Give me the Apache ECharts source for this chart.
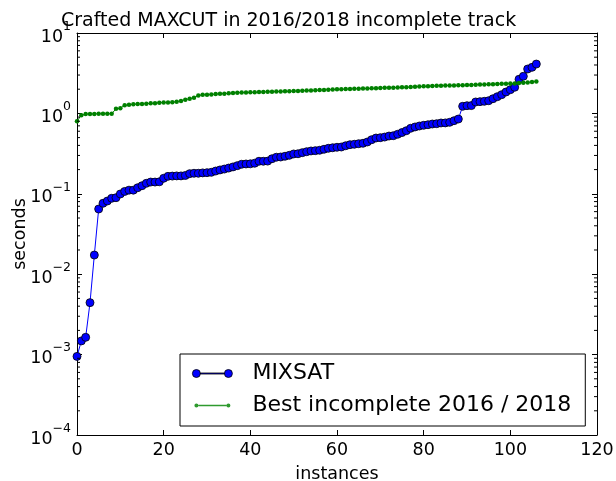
<!DOCTYPE html>
<html>
<head>
<meta charset="utf-8">
<script src="https://cdn.jsdelivr.net/npm/echarts@6/dist/echarts.min.js"></script>
<style>html,body{margin:0;padding:0;background:#fff}#c{width:616px;height:481px}</style>
</head>
<body>
<div id="c"></div>
<script>
const titleText = 'Crafted MAXCUT in 2016/2018 incomplete track';
const xName = 'instances';
const yName = 'seconds';
const seriesNames = ['MIXSAT', 'Best incomplete 2016 / 2018'];
const xTicks = [0, 20, 40, 60, 80, 100, 120];
const yExponents = [-4, -3, -2, -1, 0, 1];

const mixsat = [0.00095,0.00148,0.00164,0.00443,0.0173,0.0647,0.0762,0.0813,0.0879,0.0894,
0.0995,0.107,0.111,0.111,0.119,0.126,0.135,0.140,0.140,0.141,
0.156,0.165,0.166,0.167,0.167,0.169,0.178,0.180,0.180,0.182,
0.183,0.185,0.192,0.198,0.203,0.209,0.216,0.224,0.233,0.235,
0.236,0.240,0.254,0.254,0.255,0.273,0.285,0.287,0.293,0.301,
0.313,0.315,0.325,0.334,0.341,0.344,0.348,0.358,0.368,0.374,
0.379,0.382,0.396,0.408,0.413,0.420,0.425,0.441,0.471,0.494,
0.499,0.508,0.523,0.528,0.550,0.578,0.609,0.653,0.678,0.697,
0.711,0.723,0.738,0.745,0.760,0.762,0.775,0.811,0.851,1.225,
1.247,1.250,1.387,1.400,1.414,1.438,1.523,1.614,1.710,1.846,
1.972,2.113,2.657,2.894,3.565,3.74,4.11];

const bestIncomplete = [0.80,0.95,0.98,0.985,0.985,0.99,0.99,0.99,0.99,1.14,
1.16,1.26,1.285,1.30,1.31,1.31,1.32,1.335,1.34,1.36,
1.365,1.37,1.38,1.40,1.43,1.48,1.52,1.57,1.67,1.70,
1.71,1.72,1.74,1.75,1.76,1.78,1.795,1.81,1.815,1.82,
1.83,1.835,1.84,1.85,1.855,1.86,1.87,1.875,1.88,1.89,
1.895,1.90,1.91,1.92,1.93,1.94,1.95,1.96,1.97,1.98,
1.99,2.0,2.005,2.01,2.02,2.03,2.035,2.04,2.05,2.06,
2.07,2.08,2.085,2.09,2.10,2.11,2.12,2.13,2.145,2.16,
2.17,2.18,2.19,2.20,2.21,2.22,2.225,2.23,2.24,2.245,
2.25,2.26,2.27,2.28,2.29,2.30,2.31,2.32,2.33,2.34,
2.35,2.36,2.38,2.40,2.43,2.46,2.50];

const minorTickValues = [];
for (let e = yExponents[0]; e < yExponents[yExponents.length-1]; e++) {
  for (let m = 2; m <= 9; m++) minorTickValues.push(m * Math.pow(10, e));
}

const FONT = 'DejaVu Sans';
const chart = echarts.init(document.getElementById('c'), null, {renderer: 'canvas'});

const yLabelFmt = v => {
  const e = Math.round(Math.log10(v));
  return '{a|10}{b|' + (e < 0 ? '\u2212' + (-e) : e) + '}';
};
const yRich = {
  a: {fontFamily: FONT, fontSize: 17.5, color: '#000', verticalAlign: 'bottom', lineHeight: 26},
  b: {fontFamily: FONT, fontSize: 12.5, color: '#000', verticalAlign: 'top', lineHeight: 26}
};

const mixPath = 'path://M0,6 A4,4 0 1 0 8,6 A4,4 0 1 0 0,6 Z M32,6 A4,4 0 1 0 40,6 A4,4 0 1 0 32,6 Z M8,5.5 L32,5.5 L32,6.5 L8,6.5 Z';
const bestPath = 'path://M0,6 L0,6 M40,6 L40,6 M2,6 A2,2 0 1 0 6,6 A2,2 0 1 0 2,6 Z M34,6 A2,2 0 1 0 38,6 A2,2 0 1 0 34,6 Z M6,5.3 L34,5.3 L34,6.7 L6,6.7 Z';

const axisLineStyle = {show: true, onZero: false, lineStyle: {color: '#000', width: 1}};
const axisTickStyle = {show: true, inside: true, length: 5, lineStyle: {color: '#000', width: 1}};

const option = {
  animation: false,
  backgroundColor: '#fff',
  title: {
    text: titleText, left: 56, top: 7,
    textStyle: {fontFamily: FONT, fontSize: 19, fontWeight: 'normal', color: '#000'}
  },
  grid: {left: 77, right: 19, top: 33, bottom: 46, containLabel: false, outerBoundsMode: 'none'},
  legend: {
    orient: 'vertical', left: 180, top: 354,
    padding: [7, 14, 8, 12],
    borderColor: '#000', borderWidth: 1, borderRadius: 0, backgroundColor: '#fff',
    itemWidth: 40, itemHeight: 12, itemGap: 7,
    textStyle: {fontFamily: FONT, fontSize: 22, color: '#000', lineHeight: 25, padding: [0, 0, 0, 15]},
    data: [
      {name: seriesNames[0], icon: mixPath, itemStyle: {color: '#0000ff', borderColor: '#000', borderWidth: 0.8}},
      {name: seriesNames[1], icon: bestPath, itemStyle: {color: '#2e9a2e', borderWidth: 0}}
    ]
  },
  xAxis: [{
    type: 'value', min: xTicks[0], max: xTicks[xTicks.length-1], interval: 20, position: 'bottom',
    name: xName, nameLocation: 'middle', nameGap: 30,
    nameTextStyle: {fontFamily: FONT, fontSize: 17.5, color: '#000'},
    axisLine: axisLineStyle, axisTick: axisTickStyle,
    axisLabel: {fontFamily: FONT, fontSize: 17.5, color: '#000', margin: 6},
    splitLine: {show: false}
  }, {
    type: 'value', min: xTicks[0], max: xTicks[xTicks.length-1], interval: 20, position: 'top',
    axisLine: axisLineStyle, axisTick: axisTickStyle,
    axisLabel: {show: false}, splitLine: {show: false}
  }],
  yAxis: [{
    type: 'log', logBase: 10, min: Math.pow(10, yExponents[0]), max: Math.pow(10, yExponents[yExponents.length-1]),
    position: 'left',
    name: yName, nameLocation: 'middle', nameGap: 48, nameRotate: 90, nameMoveOverlap: false,
    nameTextStyle: {fontFamily: FONT, fontSize: 17.5, color: '#000'},
    axisLine: axisLineStyle, axisTick: axisTickStyle,
    axisLabel: {formatter: yLabelFmt, rich: yRich, margin: 6},
    splitLine: {show: false}
  }, {
    type: 'log', logBase: 10, min: Math.pow(10, yExponents[0]), max: Math.pow(10, yExponents[yExponents.length-1]),
    position: 'right',
    axisLine: axisLineStyle, axisTick: axisTickStyle,
    axisLabel: {show: false}, splitLine: {show: false}
  }],
  series: [{
    name: seriesNames[0], type: 'line', xAxisIndex: 0, yAxisIndex: 0,
    data: mixsat.map((v, i) => [i, v]),
    symbol: 'circle', symbolSize: 8, showSymbol: true,
    lineStyle: {color: '#0000ff', width: 1},
    itemStyle: {color: '#0000ff', borderColor: '#000', borderWidth: 0.8},
    emphasis: {disabled: true}, z: 3
  }, {
    name: seriesNames[1], type: 'line', xAxisIndex: 0, yAxisIndex: 0,
    data: bestIncomplete.map((v, i) => [i, v]),
    symbol: 'circle', symbolSize: 4.5, showSymbol: true,
    lineStyle: {color: '#008000', width: 1},
    itemStyle: {color: '#008000', borderWidth: 0},
    emphasis: {disabled: true}, z: 4
  }, {
    type: 'custom', xAxisIndex: 0, yAxisIndex: 0, silent: true, clip: false, z: 10,
    data: minorTickValues.map(v => [0, v]),
    renderItem: (params, api) => {
      const v = api.value(1);
      const pL = api.coord([xTicks[0], v]);
      const pR = api.coord([xTicks[xTicks.length-1], v]);
      return {type: 'group', children: [
        {type: 'line', shape: {x1: pL[0], y1: pL[1], x2: pL[0] + 3, y2: pL[1]}, style: {stroke: '#000', lineWidth: 1}},
        {type: 'line', shape: {x1: pR[0], y1: pR[1], x2: pR[0] - 3, y2: pR[1]}, style: {stroke: '#000', lineWidth: 1}}
      ]};
    }
  }]
};
chart.setOption(option);
</script>
</body>
</html>
